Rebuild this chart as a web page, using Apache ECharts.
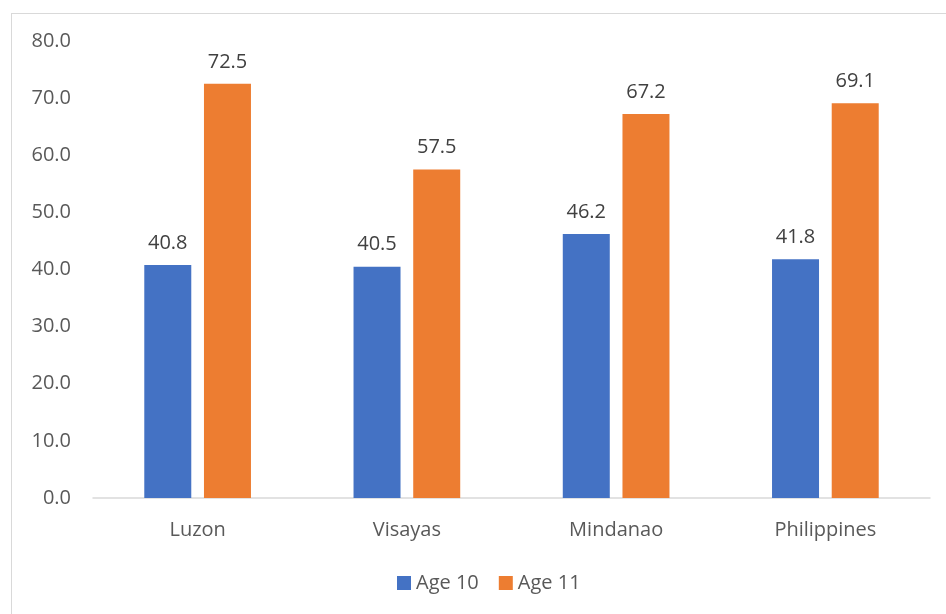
<!DOCTYPE html>
<html>
<head>
<meta charset="utf-8">
<script src="https://cdn.jsdelivr.net/npm/echarts@6/dist/echarts.min.js"></script>
<style>
  html, body { margin: 0; padding: 0; background: #fff; }
  #frame { position: absolute; left: 11px; top: 13px; width: 960px; height: 640px; border: 1px solid #d9d9d9; box-sizing: border-box; }
  #chart { position: absolute; left: 0; top: 0; width: 946px; height: 614px; }
</style>
</head>
<body>
<div id="frame"></div>
<div id="chart"></div>
<script>
// categories and values
var regions = ['Luzon', 'Visayas', 'Mindanao', 'Philippines'];
var seriesNames = ['Age 10', 'Age 11'];
var age10 = [40.8, 40.5, 46.2, 41.8];
var age11 = [72.5, 57.5, 67.2, 69.1];
var colors = ['#4472C4', '#ED7D31'];

var chart = echarts.init(document.getElementById('chart'));
var font = 'Open Sans, Liberation Sans, sans-serif';

var labelCfg = {
  show: true,
  position: 'top',
  distance: 12,
  color: '#404040',
  fontSize: 20,
  fontFamily: font,
  formatter: function (p) {
    return p.value.toFixed(1);
  },
};

var option = {
  animation: false,
  color: colors,
  grid: { left: 93, right: 16, top: 41, bottom: 116 },
  legend: {
    data: seriesNames,
    bottom: 16,
    left: 392,
    icon: 'rect',
    itemWidth: 14,
    itemHeight: 14,
    itemGap: 20,
    textStyle: { color: '#595959', fontSize: 20, fontFamily: font },
  },
  xAxis: {
    type: 'category',
    data: regions,
    axisLine: { show: true, lineStyle: { color: '#d9d9d9', width: 1.5 } },
    axisTick: { show: false },
    axisLabel: { color: '#595959', fontSize: 20, fontFamily: font, margin: 22 },
  },
  yAxis: {
    type: 'value',
    min: 0,
    max: 80,
    interval: 10,
    splitLine: { show: false },
    axisLine: { show: false },
    axisTick: { show: false },
    axisLabel: {
      color: '#595959',
      fontSize: 20,
      fontFamily: font,
      margin: 22,
      formatter: function (v) {
        return v.toFixed(1);
      },
    },
  },
  series: [
    {
      type: 'bar',
      name: seriesNames[0],
      data: age10,
      barWidth: 47,
      barGap: '27%',
      label: labelCfg,
    },
    {
      type: 'bar',
      name: seriesNames[1],
      data: age11,
      barWidth: 47,
      barGap: '27%',
      label: labelCfg,
    },
  ],
};
chart.setOption(option);
</script>
</body>
</html>
